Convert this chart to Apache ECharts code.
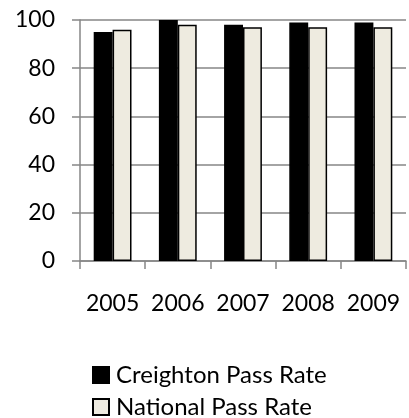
<!DOCTYPE html>
<html><head><meta charset="utf-8">
<script src="https://cdn.jsdelivr.net/npm/echarts@6/dist/echarts.min.js"></script>
<style>html,body{margin:0;padding:0;background:#fff}#c{width:409px;height:418px}</style>
</head><body><div id="c"></div>
<script>
var categories = ['2005', '2006', '2007', '2008', '2009'];
var creighton = [95, 100, 98, 99, 99];
var national = [96, 98, 97, 97, 97];
var yTicks = [0, 20, 40, 60, 80, 100];
var seriesNames = ['Creighton Pass Rate', 'National Pass Rate'];

var FONT = 'Lato';
var legendBase = {
  orient: 'horizontal', left: 92, padding: 0,
  itemWidth: 16, itemHeight: 16, icon: 'rect',
  textStyle: {fontSize: 24, color: '#000', fontFamily: FONT, lineHeight: 24, padding: [0, 0, 0, 2]}
};
var chart = echarts.init(document.getElementById('c'), null, {renderer: 'canvas'});
chart.setOption({
  animation: false,
  backgroundColor: '#fff',
  textStyle: {fontFamily: FONT},
  grid: {left: 80, right: 3, top: 20, bottom: 157, containLabel: false},
  xAxis: {
    type: 'category', data: categories,
    axisLine: {lineStyle: {color: '#868686', width: 1.5}},
    axisTick: {show: true, length: 8, alignWithLabel: false, lineStyle: {color: '#868686', width: 1.5}},
    axisLabel: {interval: 0, margin: 31, fontSize: 23, color: '#000', fontFamily: FONT}
  },
  yAxis: {
    type: 'value', min: yTicks[0], max: yTicks[yTicks.length - 1], interval: 20,
    axisLine: {show: true, lineStyle: {color: '#868686', width: 1.5}},
    axisTick: {show: true, length: 8, lineStyle: {color: '#868686', width: 1.5}},
    splitLine: {show: true, lineStyle: {color: '#868686', width: 1.5}},
    axisLabel: {margin: 25, fontSize: 23, color: '#000', fontFamily: FONT}
  },
  legend: [
    Object.assign({}, legendBase, {top: 363, data: [seriesNames[0]]}),
    Object.assign({}, legendBase, {top: 395, data: [seriesNames[1]]})
  ],
  series: [
    {name: seriesNames[0], type: 'bar', data: creighton, barGap: '0%', barCategoryGap: '42%',
     itemStyle: {color: '#000000', borderColor: '#000', borderWidth: 1.5}},
    {name: seriesNames[1], type: 'bar', data: national,
     itemStyle: {color: '#EEEBE0', borderColor: '#000', borderWidth: 1.5}}
  ]
});
</script></body></html>
